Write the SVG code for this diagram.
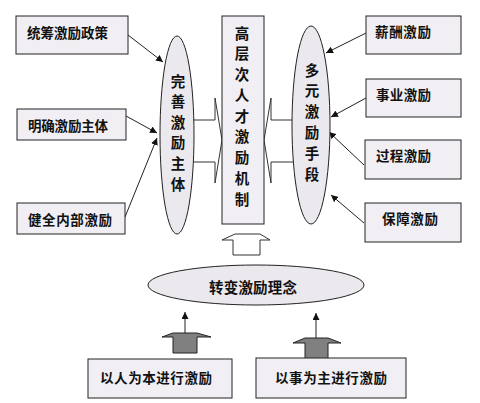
<svg xmlns="http://www.w3.org/2000/svg" width="480" height="403" viewBox="0 0 480 403">
<defs>
<style>
.box{fill:#f1eff3;stroke:#222;stroke-width:1}
.ell{fill:#ebe9ee;stroke:#222;stroke-width:1}
.blk{fill:#ffffff;stroke:#333;stroke-width:1}
.dark{fill:#808080;stroke:#222;stroke-width:1}
.ln{stroke:#222;stroke-width:1;fill:none;marker-end:url(#ah)}
text{font-family:"Noto Sans CJK SC","Noto Sans CJK JP",sans-serif;font-weight:bold;fill:#111;dominant-baseline:central}
.t{font-size:13.5px}
.v{font-size:14.5px;text-anchor:middle}
</style>
<marker id="ah" viewBox="0 0 10 10" refX="10" refY="5" markerWidth="7" markerHeight="7" orient="auto" markerUnits="userSpaceOnUse">
<path d="M0,0 L10,5 L0,10 z" fill="#111"/>
</marker>
</defs>
<rect width="480" height="403" fill="#ffffff"/>

<g id="connectors">
<polygon class="blk" points="190,120 215,120 215,98 222,140 215,183 215,162 190,162"/>
<polygon class="blk" points="296,120 271,120 271,98 264,140 271,183 271,162 296,162"/>
<polygon class="blk" points="233,255 233,240 222,240 235,234 260,234 270,240 260,240 260,255"/>
<line class="ln" x1="128" y1="35" x2="163" y2="62"/>
<line class="ln" x1="126" y1="116" x2="157" y2="133"/>
<line class="ln" x1="125" y1="217" x2="157" y2="138"/>
<line class="ln" x1="366" y1="33" x2="326" y2="53"/>
<line class="ln" x1="366" y1="98" x2="331" y2="117"/>
<line class="ln" x1="364" y1="165" x2="329" y2="132"/>
<line class="ln" x1="364" y1="223" x2="331" y2="195"/>
<polygon class="dark" points="173,353 173,337 162,337 173,333 197,333 211,337 197,337 197,353"/>
<line class="ln" x1="185" y1="333" x2="185" y2="312"/>
<polygon class="dark" points="305,359 305,343 293,343 305,338 328,338 341,343 328,343 328,359"/>
<line class="ln" x1="316" y1="338" x2="316" y2="313"/>
</g>

<g id="n-center">
<rect class="box" x="222" y="16" width="42" height="208"/>
<text class="v" x="242" y="32">高</text>
<text class="v" x="242" y="52.75">层</text>
<text class="v" x="242" y="73.5">次</text>
<text class="v" x="242" y="94.25">人</text>
<text class="v" x="242" y="115">才</text>
<text class="v" x="242" y="135.75">激</text>
<text class="v" x="242" y="156.5">励</text>
<text class="v" x="242" y="177.25">机</text>
<text class="v" x="242" y="198">制</text>
</g>

<g id="n-left-ellipse">
<ellipse class="ell" cx="177" cy="135" rx="17" ry="99"/>
<text class="v" x="178" y="80">完</text>
<text class="v" x="178" y="100.6">善</text>
<text class="v" x="178" y="121.2">激</text>
<text class="v" x="178" y="141.8">励</text>
<text class="v" x="178" y="162.4">主</text>
<text class="v" x="178" y="183">体</text>
</g>

<g id="n-right-ellipse">
<ellipse class="ell" cx="311" cy="125" rx="19" ry="99"/>
<text class="v" x="312" y="69">多</text>
<text class="v" x="312" y="89.8">元</text>
<text class="v" x="312" y="110.6">激</text>
<text class="v" x="312" y="131.4">励</text>
<text class="v" x="312" y="152.2">手</text>
<text class="v" x="312" y="173">段</text>
</g>

<g id="n-bottom-ellipse">
<ellipse class="ell" cx="256" cy="285" rx="108" ry="20"/>
<text class="t" x="209" y="286" textLength="88" style="font-size:14.5px">转变激励理念</text>
</g>

<g id="n-tongchou">
<rect class="box" x="16" y="16" width="112" height="38"/>
<text class="t" x="27" y="32" textLength="81">统筹激励政策</text>
</g>
<g id="n-mingque">
<rect class="box" x="17" y="109" width="109" height="31"/>
<text class="t" x="28" y="125" textLength="80">明确激励主体</text>
</g>
<g id="n-jianquan">
<rect class="box" x="17" y="203" width="108" height="31"/>
<text class="t" x="28" y="219" textLength="84">健全内部激励</text>
</g>

<g id="n-xinchou">
<rect class="box" x="366" y="16" width="95" height="38"/>
<text class="t" x="375" y="31" textLength="56">薪酬激励</text>
</g>
<g id="n-shiye">
<rect class="box" x="366" y="79" width="95" height="38"/>
<text class="t" x="376" y="94" textLength="55">事业激励</text>
</g>
<g id="n-guocheng">
<rect class="box" x="365" y="140" width="96" height="39"/>
<text class="t" x="376" y="155" textLength="55">过程激励</text>
</g>
<g id="n-baozhang">
<rect class="box" x="365" y="203" width="96" height="39"/>
<text class="t" x="382" y="218" textLength="56">保障激励</text>
</g>

<g id="n-yiren">
<rect class="box" x="88" y="359" width="144" height="39"/>
<text class="t" x="100" y="377" textLength="112">以人为本进行激励</text>
</g>
<g id="n-yishi">
<rect class="box" x="256" y="358" width="150" height="40"/>
<text class="t" x="275" y="377" textLength="112">以事为主进行激励</text>
</g>
</svg>
